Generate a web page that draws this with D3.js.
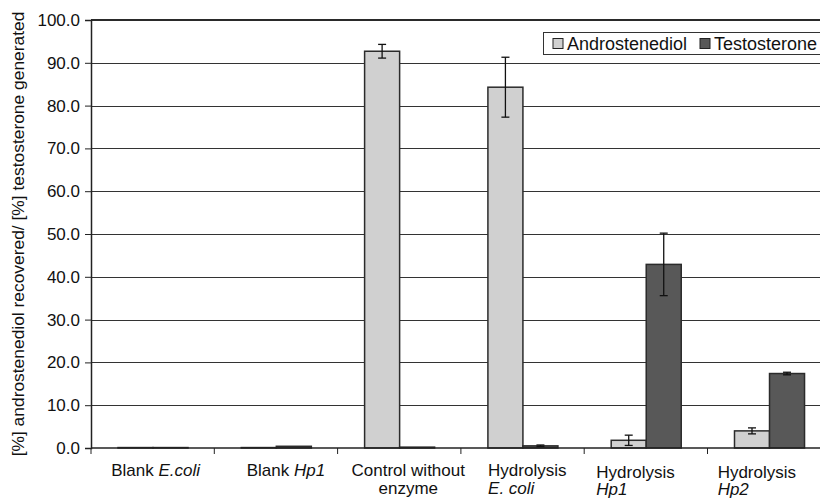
<!DOCTYPE html>
<html>
<head>
<meta charset="utf-8">
<script src="https://cdn.jsdelivr.net/npm/d3@7"></script>
<style>
  html, body { margin: 0; padding: 0; background: #fff; }
  svg { display: block; font-family: "Liberation Sans", Arial, sans-serif; }
</style>
</head>
<body>
<svg id="chart" width="820" height="499"></svg>
<script>
// Category labels: each line is a list of [text, italic] runs
const categories = ["Blank E.coli", "Blank Hp1", "Control without enzyme", "Hydrolysis E. coli", "Hydrolysis Hp1", "Hydrolysis Hp2"];
const categoryLines = [
  [[["Blank ", false], ["E.coli", true]]],
  [[["Blank ", false], ["Hp1", true]]],
  [[["Control without", false]], [["enzyme", false]]],
  [[["Hydrolysis", false]], [["E. coli", true]]],
  [[["Hydrolysis", false]], [["Hp1", true]]],
  [[["Hydrolysis", false]], [["Hp2", true]]]
];
const seriesNames = ["Androstenediol", "Testosterone"];
const androstenediol = [0.1, 0.1, 92.7, 84.3, 1.8, 4.0];
const androstenediolErr = [0, 0, 1.6, 7.0, 1.2, 0.7];
const testosterone = [0.1, 0.4, 0.2, 0.5, 42.9, 17.4];
const testosteroneErr = [0, 0, 0, 0.2, 7.3, 0.3];
const yTicks = [0, 10, 20, 30, 40, 50, 60, 70, 80, 90, 100];
const yLabel = "[%] androstenediol recovered/ [%] testosterone generated";

const seriesColors = ["#d0d0d0", "#585858"];
const fontSize = 17;

const svg = d3.select("#chart");
const plotLeft = 91, plotTop = 20, plotBottom = 448;
const categoryWidth = 123.3;

const x = d3.scaleBand().domain(categories)
  .range([plotLeft, plotLeft + categoryWidth * categories.length])
  .paddingInner(0).paddingOuter(0);
const y = d3.scaleLinear().domain([0, 100]).range([plotBottom, plotTop]);
const xInner = d3.scaleBand().domain(seriesNames)
  .range([x.bandwidth() * 0.219, x.bandwidth() * 0.787]).padding(0);

// Horizontal grid lines
svg.append("g").selectAll("line").data(yTicks.filter(d => d > 0 && d < 100)).join("line")
  .attr("x1", plotLeft).attr("x2", 820)
  .attr("y1", d => Math.round(y(d)) + 0.5).attr("y2", d => Math.round(y(d)) + 0.5)
  .attr("stroke", "#333").attr("stroke-width", 1);

// Top frame line
svg.append("line").attr("x1", plotLeft).attr("x2", 820)
  .attr("y1", y(100)).attr("y2", y(100))
  .attr("stroke", "#2a2a2a").attr("stroke-width", 2);

// Bars
const rows = categories.map((c, i) => ({
  cat: c,
  vals: [
    { s: seriesNames[0], v: androstenediol[i], e: androstenediolErr[i], k: 0 },
    { s: seriesNames[1], v: testosterone[i], e: testosteroneErr[i], k: 1 }
  ]
}));

const groups = svg.append("g").selectAll("g").data(rows).join("g")
  .attr("transform", d => `translate(${x(d.cat)},0)`);

groups.selectAll("rect").data(d => d.vals).join("rect")
  .attr("x", d => xInner(d.s))
  .attr("width", xInner.bandwidth())
  .attr("y", d => y(d.v))
  .attr("height", d => y(0) - y(d.v))
  .attr("fill", d => seriesColors[d.k])
  .attr("stroke", "#2b2b2b").attr("stroke-width", 1.5);

// Error bars
const errs = groups.selectAll("g.err").data(d => d.vals.filter(v => v.e > 0)).join("g").attr("class", "err");
errs.append("line")
  .attr("x1", d => xInner(d.s) + xInner.bandwidth() / 2)
  .attr("x2", d => xInner(d.s) + xInner.bandwidth() / 2)
  .attr("y1", d => y(d.v + d.e)).attr("y2", d => y(d.v - d.e))
  .attr("stroke", "#111").attr("stroke-width", 1.3);
errs.selectAll("line.cap").data(d => [d.v + d.e, d.v - d.e].map(t => ({ t, d }))).join("line")
  .attr("class", "cap")
  .attr("x1", o => xInner(o.d.s) + xInner.bandwidth() / 2 - 4)
  .attr("x2", o => xInner(o.d.s) + xInner.bandwidth() / 2 + 4)
  .attr("y1", o => y(o.t)).attr("y2", o => y(o.t))
  .attr("stroke", "#111").attr("stroke-width", 1.3);

// Y axis
const yAxis = svg.append("g").attr("transform", `translate(${plotLeft},0)`)
  .call(d3.axisLeft(y).tickValues(yTicks).tickFormat(d3.format(".1f")).tickSizeOuter(0).tickSize(6).tickPadding(5));
yAxis.select(".domain").attr("stroke", "#222").attr("stroke-width", 1.5);
yAxis.selectAll(".tick line").attr("stroke", "#222");
yAxis.selectAll("text").attr("font-size", fontSize).attr("fill", "#111")
  .attr("font-family", "'Liberation Sans', Arial, sans-serif");

// X axis
const xAxis = svg.append("g").attr("transform", `translate(0,${plotBottom})`);
xAxis.append("line").attr("x1", plotLeft).attr("x2", 820).attr("y1", 0).attr("y2", 0)
  .attr("stroke", "#222").attr("stroke-width", 1.5);
xAxis.selectAll("line.tick").data(d3.range(categories.length + 1)).join("line")
  .attr("class", "tick")
  .attr("x1", i => plotLeft + i * categoryWidth).attr("x2", i => plotLeft + i * categoryWidth)
  .attr("y1", 0).attr("y2", 6).attr("stroke", "#222").attr("stroke-width", 1);

// Category label placement (anchor and offsets relative to band centre)
const labelLayout = [
  { anchor: "middle", dx: 3, dy: 0 },
  { anchor: "middle", dx: 10, dy: 0 },
  { anchor: "middle", dx: 9, dy: 0 },
  { anchor: "start", dx: -34.5, dy: 0 },
  { anchor: "start", dx: -49.5, dy: 1.5 },
  { anchor: "start", dx: -51.5, dy: 1.5 }
];
categories.forEach((c, i) => {
  const cx = x(c) + x.bandwidth() / 2 + labelLayout[i].dx;
  categoryLines[i].forEach((runs, li) => {
    const t = svg.append("text")
      .attr("x", cx)
      .attr("y", 476 + labelLayout[i].dy + li * 17.5)
      .attr("text-anchor", labelLayout[i].anchor)
      .attr("font-size", fontSize).attr("fill", "#111");
    runs.forEach(([txt, it]) => {
      t.append("tspan").attr("font-style", it ? "italic" : "normal").text(txt);
    });
  });
});

// Y axis title
svg.append("text")
  .attr("transform", `translate(24,${(plotTop + plotBottom) / 2}) rotate(-90)`)
  .attr("text-anchor", "middle")
  .attr("font-size", 17.4).attr("fill", "#111")
  .text(yLabel);

// Legend
const legend = svg.append("g");
legend.append("rect").attr("x", 543.5).attr("y", 32.5).attr("width", 300).attr("height", 22)
  .attr("fill", "#fff").attr("stroke", "#333").attr("stroke-width", 1);
const legendX = [553, 700];
seriesNames.forEach((s, i) => {
  legend.append("rect").attr("x", legendX[i]).attr("y", 38.5).attr("width", 10).attr("height", 10)
    .attr("fill", seriesColors[i]).attr("stroke", "#222").attr("stroke-width", 1);
  legend.append("text").attr("x", legendX[i] + 14).attr("y", 50)
    .attr("font-size", 18).attr("fill", "#111").text(s);
});
</script>
</body>
</html>
